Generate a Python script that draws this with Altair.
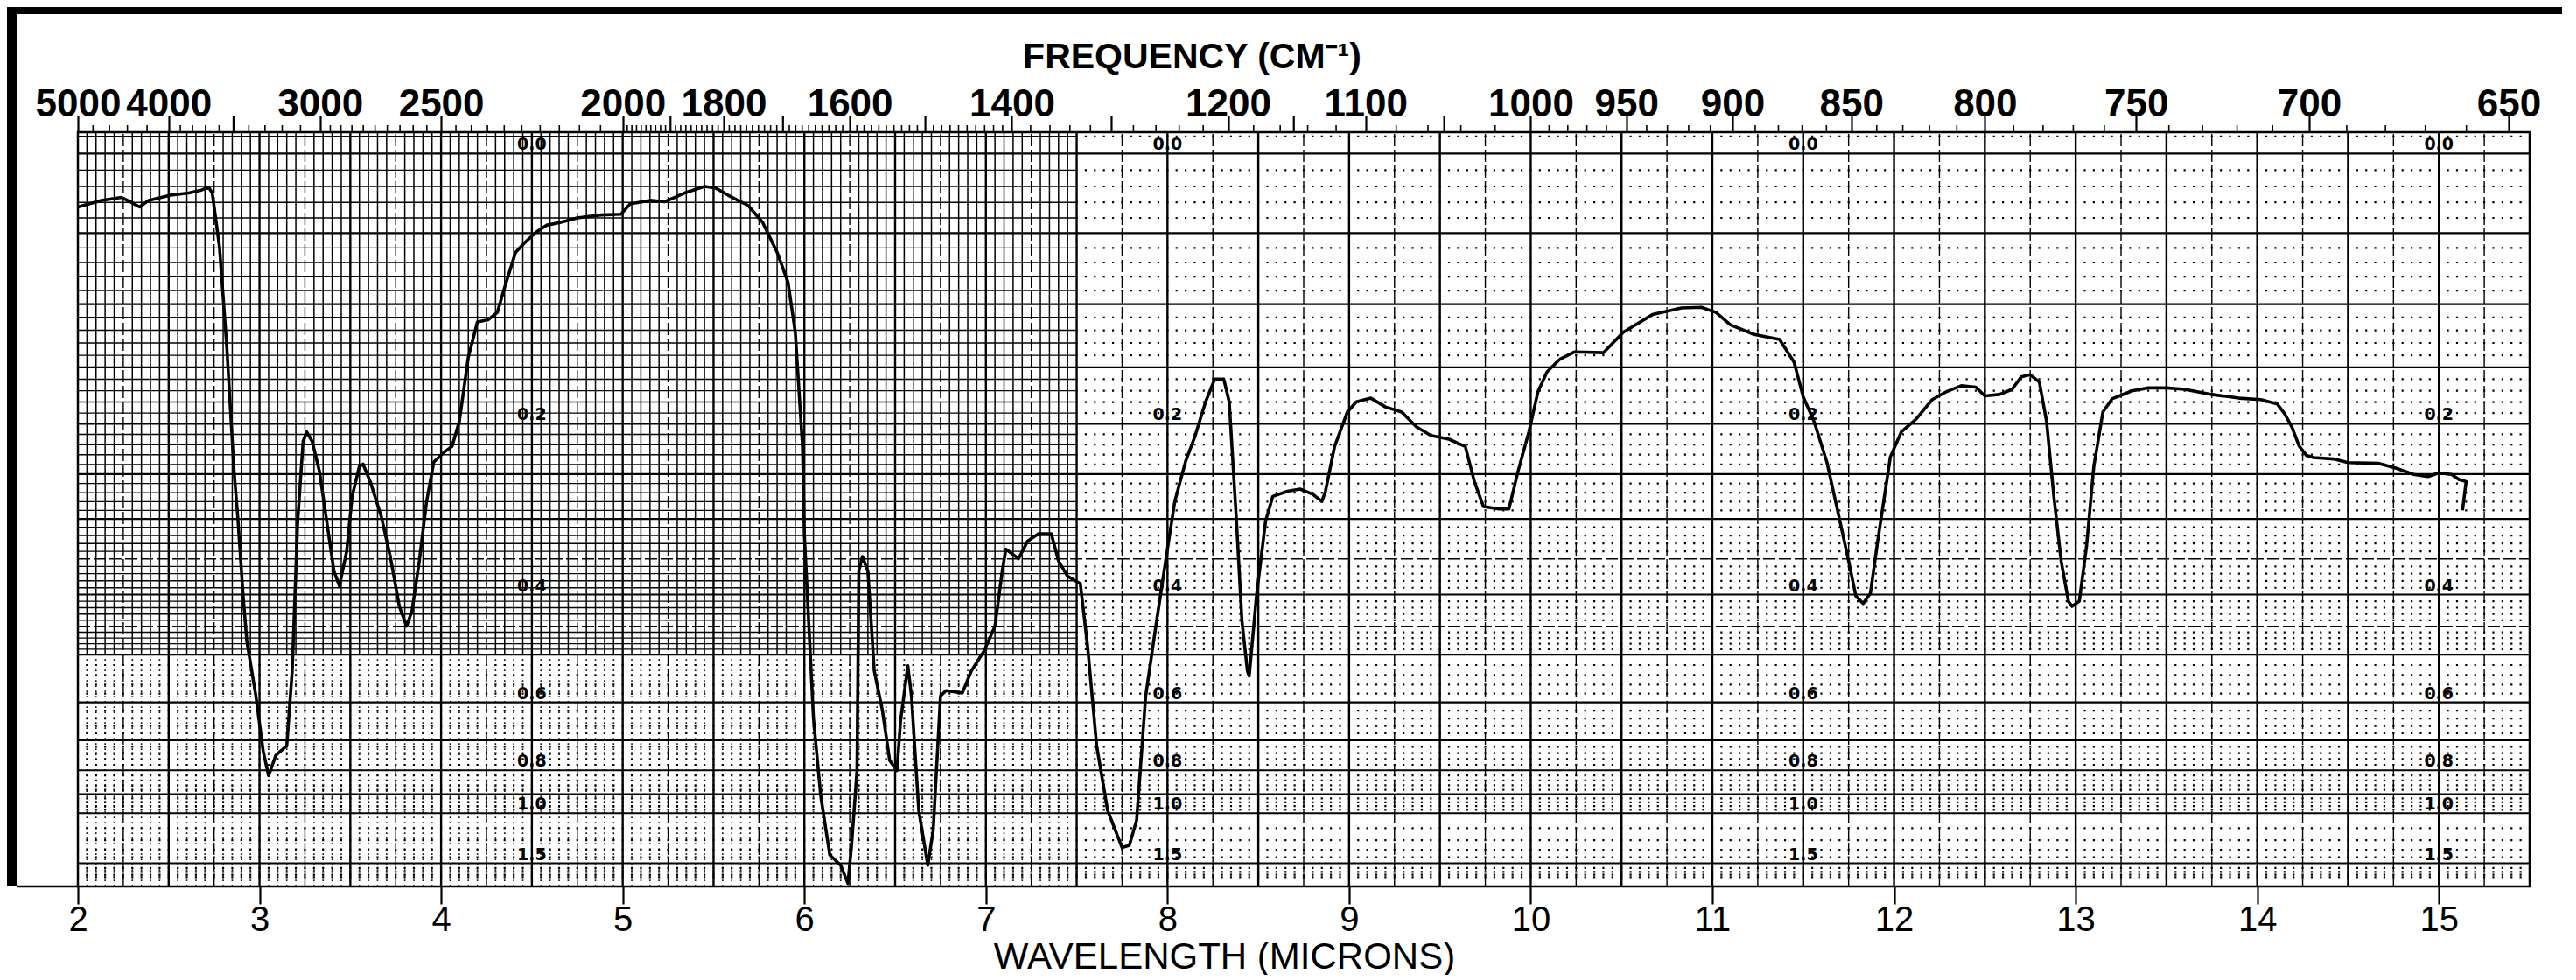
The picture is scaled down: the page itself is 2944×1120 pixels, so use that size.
import numpy as np
import pandas as pd
import altair as alt

# ---------------- data ----------------
wavelength = [
    2.00, 2.13, 2.24, 2.29, 2.34, 2.39, 2.51, 2.61, 2.68, 2.72, 2.74, 2.78, 2.82, 2.86, 2.88,
    2.91, 2.93, 2.98, 3.02, 3.05, 3.09, 3.15, 3.18, 3.21, 3.24, 3.26, 3.29, 3.33, 3.37, 3.41,
    3.44, 3.48, 3.51, 3.55, 3.57, 3.61, 3.67, 3.72, 3.77, 3.81, 3.84, 3.88, 3.92, 3.96, 4.02,
    4.06, 4.10, 4.15, 4.20, 4.26, 4.31, 4.35, 4.41, 4.46, 4.52, 4.58, 4.66, 4.75, 4.88, 4.99,
    5.04, 5.15, 5.23, 5.34, 5.45, 5.51, 5.58, 5.69, 5.77, 5.85, 5.91, 5.95, 5.99, 6.00, 6.02,
    6.05, 6.09, 6.14, 6.20, 6.24, 6.26, 6.29, 6.30, 6.32, 6.35, 6.385, 6.43, 6.47, 6.51, 6.53,
    6.57, 6.59, 6.63, 6.68, 6.71, 6.75, 6.78, 6.87, 6.92, 6.99, 7.05, 7.09, 7.11, 7.18, 7.23,
    7.29, 7.36, 7.40, 7.45, 7.52, 7.56, 7.61, 7.67, 7.75, 7.79, 7.83, 7.88, 7.94, 7.99, 8.04,
    8.10, 8.15, 8.21, 8.26, 8.31, 8.34, 8.38, 8.41, 8.44, 8.45, 8.49, 8.54, 8.58, 8.66, 8.73,
    8.80, 8.85, 8.87, 8.92, 8.99, 9.04, 9.12, 9.20, 9.29, 9.37, 9.45, 9.55, 9.64, 9.69, 9.74,
    9.82, 9.88, 9.93, 9.99, 10.04, 10.09, 10.16, 10.24, 10.40, 10.51, 10.67, 10.83, 10.94, 11.02, 11.10,
    11.23, 11.37, 11.45, 11.50, 11.56, 11.63, 11.69, 11.75, 11.79, 11.83, 11.87, 11.91, 11.98, 12.04, 12.12,
    12.21, 12.29, 12.37, 12.45, 12.50, 12.58, 12.65, 12.70, 12.75, 12.80, 12.84, 12.88, 12.92, 12.96, 12.98,
    13.02, 13.06, 13.10, 13.15, 13.20, 13.25, 13.31, 13.40, 13.50, 13.60, 13.75, 13.90, 14.02, 14.11, 14.15,
    14.19, 14.23, 14.27, 14.31, 14.42, 14.50, 14.67, 14.77, 14.86, 14.94, 15.00, 15.07, 15.11, 15.15, 15.13,
]
transmittance = [
    92.7, 93.6, 94.0, 93.4, 92.7, 93.6, 94.3, 94.6, 95.0, 95.4, 94.6, 87.2, 73.6, 56.6, 50.5,
    39.6, 33.5, 26.0, 18.5, 15.1, 17.9, 19.2, 29.4, 49.8, 60.7, 62.0, 60.7, 56.6, 49.8, 43.0,
    41.0, 45.7, 53.2, 57.3, 57.6, 55.2, 50.5, 45.0, 38.2, 35.5, 37.6, 44.4, 52.5, 57.9, 59.3,
    60.0, 63.4, 72.2, 77.0, 77.3, 78.3, 81.7, 86.5, 87.8, 89.2, 90.2, 90.6, 91.2, 91.6, 91.7,
    93.1, 93.6, 93.4, 94.6, 95.5, 95.3, 94.3, 92.9, 90.6, 86.5, 82.4, 75.6, 60.0, 48.0, 38.0,
    23.0, 12.4, 4.3, 2.9, 0.4, 5.6, 15.8, 43.0, 45.0, 43.0, 29.4, 24.0, 17.2, 15.8, 22.6,
    30.1, 26.0, 10.4, 2.9, 7.7, 26.0, 26.7, 26.4, 29.4, 32.1, 35.5, 43.0, 46.0, 44.7, 47.1,
    48.1, 48.1, 44.4, 42.3, 41.3, 32.8, 19.2, 10.4, 5.3, 5.6, 9.0, 26.0, 36.2, 44.4, 52.5,
    58.0, 61.3, 66.1, 69.2, 69.2, 66.1, 49.8, 36.2, 29.4, 28.7, 39.6, 49.8, 53.2, 53.9, 54.2,
    53.5, 52.5, 53.9, 60.0, 64.7, 66.1, 66.6, 65.4, 64.7, 62.7, 61.5, 61.0, 60.0, 55.2, 51.8,
    51.5, 51.5, 56.6, 62.0, 67.5, 70.2, 71.9, 72.9, 72.8, 75.6, 78.0, 78.9, 79.0, 78.3, 76.6,
    75.3, 74.6, 71.5, 66.8, 63.4, 57.9, 51.2, 44.4, 39.6, 38.6, 40.0, 47.1, 58.6, 62.0, 63.7,
    66.4, 67.5, 68.3, 68.1, 66.9, 67.1, 67.8, 69.5, 69.8, 68.8, 63.4, 53.2, 44.4, 38.9, 38.2,
    38.9, 46.4, 57.3, 64.7, 66.5, 67.0, 67.6, 68.0, 68.0, 67.8, 67.1, 66.6, 66.4, 65.8, 64.5,
    62.7, 60.1, 58.8, 58.5, 58.3, 57.8, 57.7, 57.0, 56.2, 55.9, 56.4, 56.2, 55.5, 55.2, 51.3,
]

# axis labels
micron_ticks = list(range(2, 16))
freq_labels = [5000, 4000, 3000, 2500, 2000, 1800, 1600, 1400, 1200, 1100,
               1000, 950, 900, 850, 800, 750, 700, 650]
freq_long_unlabeled = [3500, 1900, 1700, 1500, 1300, 1150, 1050]
abs_label_values = [0.0, 0.2, 0.4, 0.6, 0.8, 1.0, 1.5]
abs_label_text = ["0.0", "0.2", "0.4", "0.6", "0.8", "1.0", "1.5"]
label_columns = [4.5, 8.0, 11.5, 15.0]

# ---------------- layout ----------------
W, H = 2802, 862
X0, X1 = 2.0, 15.5
Y0, Y1 = 0.0, 102.9
SPLIT = 7.5          # end of the densely ruled part of the chart paper
FONT = "Liberation Sans"
STEP_PX = 0.05 * W / (X1 - X0)   # pixel pitch of the 0.05 micron rulings


def T(a):
    return 100.0 * 10 ** (-a)


xs = alt.Scale(domain=[X0, X1], nice=False, zero=False)
ys = alt.Scale(domain=[Y0, Y1], nice=False, zero=False)

# ---------------- chart-paper grid ----------------
fine_x = [round(v, 2) for v in np.arange(2.05, 15.5, 0.05)
          if abs(v * 4 - round(v * 4)) > 1e-6]
quarter_x = [round(v, 2) for v in np.arange(2.25, 15.5, 0.5)]
half_x = [round(v, 2) for v in np.arange(2.5, 15.01, 0.5)]

fine_a = ([round(a, 2) for a in np.arange(0.01, 0.5, 0.01) if round(a * 100) % 5 != 0]
          + [round(a, 2) for a in np.arange(0.52, 1.0, 0.02) if round(a * 100) % 10 != 0]
          + [1.1, 1.2, 1.3, 1.4, 1.6, 1.7, 1.8, 1.9, -0.01])
heavy_a = [0.0, 0.05, 0.1, 0.15, 0.2, 0.25, 0.3, 0.4, 0.5, 0.6, 0.7, 0.8, 0.9, 1.0, 1.5]
thin_a = [0.35, 0.45]

v_solid, v_dot = [], []
for x in fine_x:
    if x < SPLIT:
        v_solid.append({"x": x, "y1": T(0.5), "y2": Y1})
        v_dot.append({"x": x, "y1": Y0, "y2": T(0.5)})

h_solid, h_dot = [], []
for a in fine_a:
    if a < 0.5:
        h_solid.append({"y": T(a), "x1": X0, "x2": SPLIT})
        h_dot.append({"y": T(a), "x1": SPLIT, "x2": X1})
    else:
        h_dot.append({"y": T(a), "x1": X0, "x2": X1})


def vrules(rows, **style):
    return alt.Chart(pd.DataFrame(rows)).mark_rule(**style).encode(
        x=alt.X("x:Q", scale=xs, axis=None),
        y=alt.Y("y1:Q", scale=ys, axis=None),
        y2="y2:Q",
    )


def hrules(rows, **style):
    return alt.Chart(pd.DataFrame(rows)).mark_rule(**style).encode(
        y=alt.Y("y:Q", scale=ys, axis=None),
        x=alt.X("x1:Q", scale=xs, axis=None),
        x2="x2:Q",
    )


grid_layers = [
    vrules(v_solid, color="black", strokeWidth=1.5),
    hrules(h_solid, color="black", strokeWidth=1.4),
    vrules(v_dot, color="#111111", strokeWidth=1.6, strokeDash=[1.8, 4.2]),
    # dot grid: one dot per 0.05 micron along each fine absorbance row
    hrules(h_dot, color="black", strokeWidth=2.2, strokeDash=[2.2, STEP_PX - 2.2],
           strokeDashOffset=1.1),
    vrules([{"x": x, "y1": Y0, "y2": Y1} for x in quarter_x],
           color="black", strokeWidth=1.4, strokeDash=[14, 4]),
    hrules([{"y": T(a), "x1": X0, "x2": X1} for a in thin_a],
           color="black", strokeWidth=1.4, strokeDash=[14, 4]),
    vrules([{"x": x, "y1": Y0, "y2": Y1} for x in half_x],
           color="black", strokeWidth=2.4),
    hrules([{"y": T(a), "x1": X0, "x2": X1} for a in heavy_a],
           color="black", strokeWidth=2.2),
]

# ---------------- absorbance labels inside the chart ----------------
abs_df = pd.DataFrame([
    {"x": c, "y": T(a), "t": t}
    for c in label_columns for a, t in zip(abs_label_values, abs_label_text)
])
abs_text = alt.Chart(abs_df).mark_text(
    font="DejaVu Sans", fontWeight="bold", fontSize=19, dy=-10, color="black",
    align="center", baseline="middle",
).encode(
    x=alt.X("x:Q", scale=xs, axis=None),
    y=alt.Y("y:Q", scale=ys, axis=None),
    text="t:N",
)

# ---------------- top (frequency) scale ----------------
minor_freqs = (
    [4800, 4600, 4400, 4200]
    + [f for f in range(3900, 3000, -100) if f != 3500]
    + [f for f in range(2950, 2000, -50) if f != 2500]
    + [f for f in range(1990, 1400, -10) if f % 100 != 0]
    + [f for f in range(1380, 1000, -20) if f % 100 != 0]
    + [f for f in range(990, 650, -10) if f % 50 != 0]
)
minor_ticks = alt.Chart(pd.DataFrame({"x": [1e4 / f for f in minor_freqs]})).mark_rule(
    color="black", strokeWidth=1.6
).encode(
    x=alt.X("x:Q", scale=xs, axis=None),
    y=alt.value(0), y2=alt.value(-8),
)

top_axis = alt.Axis(
    orient="top", values=[1e4 / f for f in freq_labels],
    labelExpr="'' + round(10000 / datum.value)",
    grid=False, domain=False, ticks=True, tickSize=19, tickWidth=2.2, tickColor="black",
    labelFont=FONT, labelFontWeight="bold", labelFontSize=44, labelColor="black",
    labelPadding=0, labelBaseline="alphabetic", labelOverlap=False, labelFlush=False,
    title="FREQUENCY (CM⁻¹)", titleFont=FONT, titleFontWeight="bold", titleFontSize=41,
    titleColor="black", titleX=1273, titleY=-74, titleBaseline="alphabetic",
    titleAlign="center", titleAngle=0,
)
long_ticks = alt.Chart(pd.DataFrame({"x": [1e4 / f for f in freq_long_unlabeled]})).mark_rule(
    color="black", strokeWidth=2.2
).encode(
    x=alt.X("x:Q", scale=xs, axis=top_axis),
    y=alt.value(0), y2=alt.value(-19),
)

# ---------------- spectrum trace with bottom (wavelength) axis ----------------
spec = pd.DataFrame({"wl": wavelength, "T": transmittance, "i": range(len(wavelength))})
bottom_axis = alt.Axis(
    orient="bottom", values=micron_ticks, format="d",
    grid=False, domain=False, tickSize=20, tickWidth=2.2, tickColor="black",
    labelFont=FONT, labelFontSize=40, labelColor="black", labelPadding=30,
    labelBaseline="alphabetic", labelFlush=False, labelOverlap=False,
    title="WAVELENGTH (MICRONS)", titleFont=FONT, titleFontWeight="normal",
    titleFontSize=42, titleColor="black", titleX=1310, titleY=93,
    titleBaseline="alphabetic", titleAlign="center",
)
trace = alt.Chart(spec).mark_line(color="black", strokeWidth=3.6, strokeJoin="round").encode(
    x=alt.X("wl:Q", scale=xs, axis=bottom_axis),
    y=alt.Y("T:Q", scale=ys, axis=None),
    order="i:Q",
)

# ---------------- scanned-page edges ----------------
one = pd.DataFrame({"k": [0]})
left_strip = alt.Chart(one).mark_rect(color="black").encode(
    x=alt.value(-81), x2=alt.value(-70), y=alt.value(-143), y2=alt.value(H))
top_band = alt.Chart(one).mark_rect(color="black").encode(
    x=alt.value(-81), x2=alt.value(W + 37), y=alt.value(-143), y2=alt.value(-135))
base_ext = alt.Chart(one).mark_rule(color="black", strokeWidth=2.5).encode(
    x=alt.value(-70), x2=alt.value(0), y=alt.value(H))

chart = alt.layer(
    *grid_layers, abs_text, minor_ticks, long_ticks, trace,
    left_strip, top_band, base_ext,
).properties(
    width=W, height=H,
    padding={"left": 0, "top": 0, "right": 0, "bottom": 0},
    background="white",
).configure_view(stroke="black", strokeWidth=2.5)

chart.save("out.html", embed_options={"renderer": "svg", "actions": False})
